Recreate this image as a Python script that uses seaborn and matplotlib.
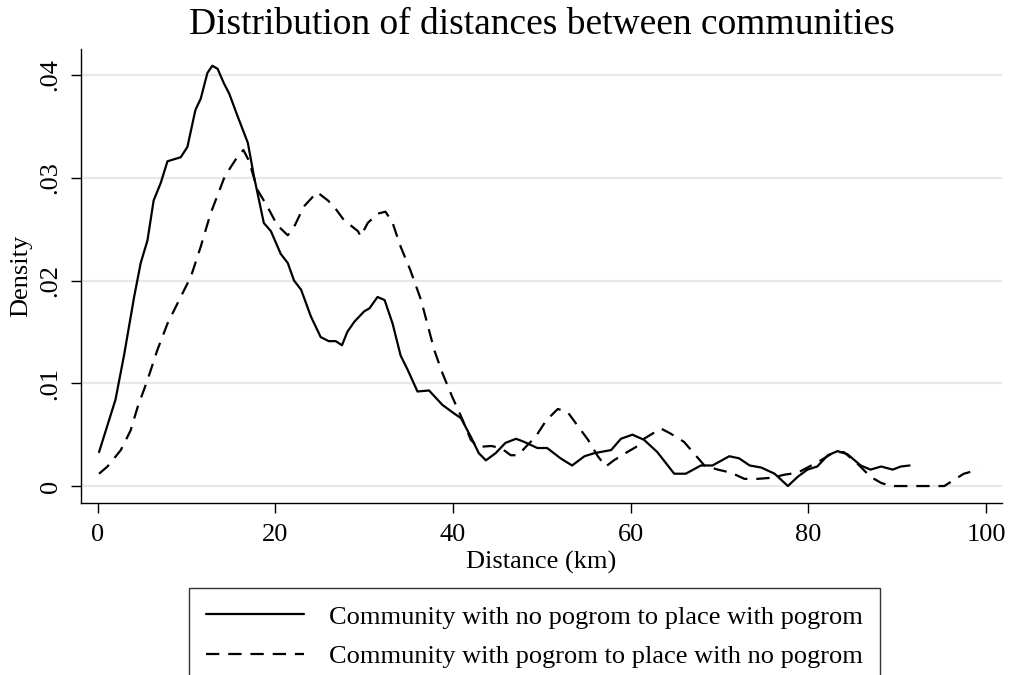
import matplotlib
matplotlib.use('Agg')
import matplotlib.pyplot as plt
import seaborn as sns
import pandas as pd

# Kernel density traces (distance in km, density)
dist_nopog = [0.15, 2.0, 2.96, 4.1, 4.84, 5.6, 6.3, 7.1, 7.85, 9.35, 10.1, 11.0, 11.6, 12.35,
              12.9, 13.5, 14.2, 14.8, 15.7, 16.9, 17.6, 18.7, 19.5, 20.6, 21.4, 22.1, 22.9,
              24.0, 25.1, 26.0, 26.8, 27.5, 28.1, 28.9, 30.0, 30.6, 31.5, 32.3, 33.2, 34.1,
              34.9, 36.0, 37.3, 38.8, 39.9, 40.9, 42.0, 42.9, 43.7, 44.8, 45.9, 47.1, 48.0,
              49.5, 50.6, 52.1, 53.4, 54.8, 55.9, 57.8, 58.9, 60.2, 61.5, 63.0, 64.9, 66.2,
              67.9, 69.2, 71.1, 72.2, 73.4, 74.7, 76.2, 77.7, 78.8, 79.9, 81.0, 82.2, 83.3,
              84.4, 85.9, 87.0, 88.2, 89.5, 90.4, 91.4]
dens_nopog = [0.0033, 0.0084, 0.0127, 0.0184, 0.0217, 0.0239, 0.0278, 0.0295, 0.0316, 0.0320,
              0.0330, 0.0366, 0.0377, 0.0402, 0.0409, 0.0406, 0.0392, 0.0382, 0.0361, 0.0334,
              0.0301, 0.0256, 0.0248, 0.0226, 0.0217, 0.0200, 0.0191, 0.0165, 0.0145, 0.0141,
              0.0141, 0.0137, 0.0150, 0.0160, 0.0170, 0.0173, 0.0184, 0.0181, 0.0158, 0.0127,
              0.0113, 0.0092, 0.0093, 0.0079, 0.0072, 0.0066, 0.0048, 0.0032, 0.0025, 0.0032,
              0.0042, 0.0046, 0.0043, 0.0037, 0.0037, 0.0027, 0.0020, 0.0029, 0.0032, 0.0035,
              0.0046, 0.0050, 0.0045, 0.0033, 0.0012, 0.0012, 0.0020, 0.0020, 0.0029, 0.0027,
              0.0020, 0.0018, 0.0012, 0.0000, 0.0009, 0.0016, 0.0019, 0.0030, 0.0034, 0.0031,
              0.0020, 0.0016, 0.0019, 0.0016, 0.0019, 0.0020]

dist_pog = [0.15, 1.1, 2.6, 3.7, 4.5, 5.6, 6.7, 7.85, 9.0, 10.5, 11.6, 12.7, 14.2, 14.8, 15.7,
            16.4, 17.0, 18.0, 19.1, 20.2, 21.4, 22.1, 23.2, 24.7, 25.9, 26.6, 27.7, 29.3,
            29.6, 30.4, 31.5, 32.4, 33.2, 34.1, 35.2, 36.4, 37.9, 38.8, 39.9, 41.1, 42.0,
            42.8, 44.3, 45.4, 46.5, 47.3, 48.4, 49.3, 50.5, 51.8, 52.9, 54.0, 55.2, 56.3,
            57.2, 58.1, 59.6, 60.6, 61.5, 63.4, 64.5, 66.0, 66.8, 68.3, 69.8, 71.3, 72.8,
            74.3, 75.8, 77.3, 78.8, 79.9, 81.4, 82.9, 84.0, 85.5, 87.0, 88.2, 89.3, 91.9,
            95.3, 96.4, 97.5, 99.2]
dens_pog = [0.0012, 0.0019, 0.0035, 0.0054, 0.0077, 0.0103, 0.0132, 0.0158, 0.0178, 0.0204,
            0.0233, 0.0265, 0.0299, 0.0308, 0.0320, 0.0327, 0.0317, 0.0288, 0.0272, 0.0254,
            0.0244, 0.0252, 0.0272, 0.0286, 0.0278, 0.0272, 0.0259, 0.0248, 0.0243, 0.0256,
            0.0265, 0.0267, 0.0256, 0.0233, 0.0210, 0.0181, 0.0132, 0.0110, 0.0087, 0.0064,
            0.0045, 0.0038, 0.0039, 0.0037, 0.0030, 0.0030, 0.0040, 0.0048, 0.0064, 0.0075,
            0.0072, 0.0059, 0.0045, 0.0029, 0.0019, 0.0025, 0.0033, 0.0038, 0.0046, 0.0056,
            0.0051, 0.0043, 0.0035, 0.0020, 0.0016, 0.0013, 0.0007, 0.0007, 0.0008, 0.0011,
            0.0013, 0.0018, 0.0025, 0.0033, 0.0033, 0.0022, 0.0009, 0.0003, 0.0000, 0.0000,
            0.0000, 0.0006, 0.0012, 0.0016]

label_nopog = 'Community with no pogrom to place with pogrom'
label_pog = 'Community with pogrom to place with no pogrom'

yticks = [0, 0.01, 0.02, 0.03, 0.04]
ytick_labels = ['0', '.01', '.02', '.03', '.04']
xticks = [0, 20, 40, 60, 80, 100]

sns.set_style('white')
plt.rcParams['font.family'] = ['Liberation Serif', 'DejaVu Serif']
plt.rcParams['text.color'] = 'black'
plt.rcParams['axes.labelcolor'] = 'black'
plt.rcParams['xtick.color'] = 'black'
plt.rcParams['ytick.color'] = 'black'

df_a = pd.DataFrame({'dist': dist_nopog, 'dens': dens_nopog})
df_b = pd.DataFrame({'dist': dist_pog, 'dens': dens_pog})

fig = plt.figure(figsize=(10.1, 6.75), dpi=100)
ax = fig.add_axes([81 / 1010, 1 - 503 / 675, (1002 - 81) / 1010, (503 - 49) / 675])

sns.lineplot(data=df_a, x='dist', y='dens', ax=ax, color='black', linewidth=1.6,
             label=label_nopog, legend=False)
sns.lineplot(data=df_b, x='dist', y='dens', ax=ax, color='black', linewidth=1.6,
             label=label_pog, legend=False)
ax.lines[1].set_dashes((6, 4))

ax.set_xlim(-1.88, 101.8)
ax.set_ylim(-0.00165, 0.04253)

ax.set_yticks(yticks)
ax.set_yticklabels(ytick_labels, rotation=90, va='center')
ax.set_xticks(xticks)

ax.yaxis.grid(True, color='#e8e8e8', linewidth=1.6)
ax.xaxis.grid(False)
ax.set_axisbelow(True)

for side in ['top', 'right']:
    ax.spines[side].set_visible(False)
for side in ['left', 'bottom']:
    ax.spines[side].set_color('black')
    ax.spines[side].set_linewidth(1.0)

ax.tick_params(axis='both', which='major', direction='out', length=7, width=1,
               labelsize=19, left=True, bottom=True)
ax.tick_params(axis='y', pad=7)
ax.tick_params(axis='x', pad=8)

ax.set_xlabel('Distance (km)', fontsize=19, labelpad=4)
ax.set_ylabel('Density', fontsize=19, labelpad=5)
ax.set_title('Distribution of distances between communities', fontsize=27, pad=11)

handles = ax.lines[:2]
leg = fig.legend(handles, [label_nopog, label_pog], loc='upper center',
                 bbox_to_anchor=(534.5 / 1010, 1 - 588 / 675), ncol=1, fontsize=19,
                 frameon=True, fancybox=False, edgecolor='black', borderpad=0.65,
                 labelspacing=0.6, handlelength=3.7, handletextpad=0.95,
                 borderaxespad=0)
leg.get_frame().set_linewidth(1.0)

fig.savefig('out.png', dpi=100)
